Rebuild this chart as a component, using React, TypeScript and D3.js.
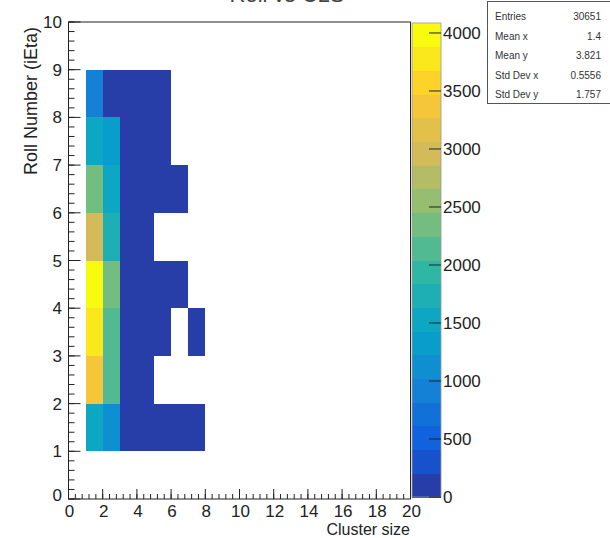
import React from "react";
import * as d3 from "d3";

// ---- data ----
const clusterBins = [1, 2, 3, 4, 5, 6, 7]; // lower edges of x bins (cluster size)
const rollBins = [1, 2, 3, 4, 5, 6, 7, 8]; // lower edges of y bins (roll number)
const roll1 = [1500, 1100, 60, 40, 30, 20, 10];
const roll2 = [3450, 2100, 80, 30, 0, 0, 0];
const roll3 = [3850, 2150, 90, 40, 20, 0, 10];
const roll4 = [4086, 2300, 100, 50, 20, 10, 0];
const roll5 = [3050, 1750, 80, 30, 0, 0, 0];
const roll6 = [2250, 1600, 70, 30, 20, 10, 0];
const roll7 = [1550, 1350, 60, 30, 10, 0, 0];
const roll8 = [850, 180, 40, 20, 10, 0, 0];
const counts = [roll1, roll2, roll3, roll4, roll5, roll6, roll7, roll8];

const xTickLabels = d3.range(0, 21, 2);
const yTickLabels = d3.range(0, 11, 1);
const zTickLabels = d3.range(0, 4001, 500);

const statNames = ["Entries", "Mean x", "Mean y", "Std Dev x", "Std Dev y"];
const statValues = ["30651", "1.4", "3.821", "0.5556", "1.757"];

// ROOT kBird palette
const birdStops = [0.0, 0.125, 0.25, 0.375, 0.5, 0.625, 0.75, 0.875, 1.0];
const birdR = [0.2082, 0.0592, 0.078, 0.0232, 0.1802, 0.5301, 0.8186, 0.9956, 0.9764];
const birdG = [0.1664, 0.3599, 0.5041, 0.6419, 0.7178, 0.7492, 0.7328, 0.7862, 0.9832];
const birdB = [0.5293, 0.8684, 0.8385, 0.7914, 0.6425, 0.4662, 0.3499, 0.1968, 0.0539];

const NLEV = 20;
const NCOL = 255;

export default function App() {
  const W = 610, H = 538;
  const x = d3.scaleLinear().domain([0, 20]).range([68.5, 410.5]);
  const y = d3.scaleLinear().domain([0, 10]).range([499, 22]);
  const zmax = d3.max(counts.flat()) as number;
  const z = d3.scaleLinear().domain([0, zmax]).range([497, 23]);

  const palette = d3
    .scaleLinear<string>()
    .domain(birdStops)
    .range(birdStops.map((_, i) => d3.rgb(birdR[i] * 255, birdG[i] * 255, birdB[i] * 255).toString()))
    .interpolate(d3.interpolateRgb);

  const levelColor = (lev: number) => {
    const ci = Math.floor((lev + 0.99) * NCOL / NLEV);
    return palette(Math.min(ci, NCOL - 1) / (NCOL - 1));
  };
  const valueColor = (v: number) => {
    let lev = Math.floor(v / (zmax / NLEV));
    if (lev > NLEV - 1) lev = NLEV - 1;
    return levelColor(lev);
  };

  const font = "'Liberation Sans', Arial, Helvetica, sans-serif";
  const axisCol = "#222";

  const cells: JSX.Element[] = [];
  counts.forEach((row, ri) => {
    row.forEach((v, ci) => {
      if (v <= 0) return;
      const x0 = clusterBins[ci];
      const y0 = rollBins[ri];
      cells.push(
        <rect
          key={`c${ri}-${ci}`}
          x={x(x0)}
          y={y(y0 + 1)}
          width={x(x0 + 1) - x(x0)}
          height={y(y0) - y(y0 + 1)}
          fill={valueColor(v)}
          shapeRendering="crispEdges"
        />
      );
    });
  });

  const xMinor = d3.range(0, 20.001, 0.4);
  const yMinor = d3.range(0, 10.001, 0.2);

  const barX = 412, barW = 29;
  const bands = d3.range(NLEV).map((lev) => {
    const a = (lev * zmax) / NLEV, b = ((lev + 1) * zmax) / NLEV;
    return (
      <rect key={`b${lev}`} x={barX} y={z(b)} width={barW} height={z(a) - z(b) + 0.5} fill={levelColor(lev)} shapeRendering="crispEdges" />
    );
  });

  return (
    <svg width={W} height={H} style={{ position: "absolute", left: 0, top: 0, background: "#fff" }} fontFamily={font}>
      <rect x={0} y={0} width={W} height={H} fill="#fff" />
      {/* title, mostly cut off at the top edge */}
      <text x={287} y={2} textAnchor="middle" fontSize={22} fill="#444">Roll vs CLS</text>

      {cells}

      {/* frame */}
      <rect x={x(0)} y={y(10)} width={x(20) - x(0)} height={y(0) - y(10)} fill="none" stroke={axisCol} strokeWidth={1} />

      {/* x ticks */}
      {xMinor.map((t, i) => (
        <line key={`xm${i}`} x1={x(t)} x2={x(t)} y1={y(0)} y2={y(0) - 5} stroke={axisCol} />
      ))}
      {xTickLabels.map((t) => (
        <g key={`xt${t}`}>
          <line x1={x(t)} x2={x(t)} y1={y(0)} y2={y(0) - 10} stroke={axisCol} />
          <text x={x(t) + 1} y={517} textAnchor="middle" fontSize={17} fill="#222">{t}</text>
        </g>
      ))}
      {/* y ticks */}
      {yMinor.map((t, i) => (
        <line key={`ym${i}`} x1={x(0)} x2={x(0) + 6} y1={y(t)} y2={y(t)} stroke={axisCol} />
      ))}
      {yTickLabels.map((t) => (
        <g key={`yt${t}`}>
          <line x1={x(0)} x2={x(0) + 12} y1={y(t)} y2={y(t)} stroke={axisCol} />
          <text x={62} y={t === 0 ? y(t) + 2 : y(t) + 6} textAnchor="end" fontSize={17} fill="#222">{t}</text>
        </g>
      ))}

      {/* axis titles */}
      <text x={410} y={535} textAnchor="end" fontSize={16} fill="#222">Cluster size</text>
      <text transform="translate(37,27) rotate(-90)" textAnchor="end" fontSize={18} fill="#222">Roll Number (iEta)</text>

      {/* color bar */}
      {bands}
      <rect x={barX} y={z(zmax)} width={barW} height={z(0) - z(zmax)} fill="none" stroke="#999" strokeWidth={0.8} />
      {zTickLabels.map((t) => (
        <g key={`zt${t}`}>
          <line x1={barX + barW} x2={barX + barW - 12} y1={z(t)} y2={z(t)} stroke={axisCol} />
          <text x={barX + barW + 2} y={z(t) + 6} fontSize={17} fill="#222">{t}</text>
        </g>
      ))}

      {/* stats box */}
      <rect x={487.5} y={1.5} width={125} height={102} fill="#fff" stroke="#555" strokeWidth={1} />
      {statNames.map((n, i) => (
        <g key={`s${i}`}>
          <text x={495} y={20 + i * 19.5} fontSize={10} fill="#333">{n}</text>
          <text x={601} y={20 + i * 19.5} fontSize={10} textAnchor="end" fill="#333">{statValues[i]}</text>
        </g>
      ))}
    </svg>
  );
}
